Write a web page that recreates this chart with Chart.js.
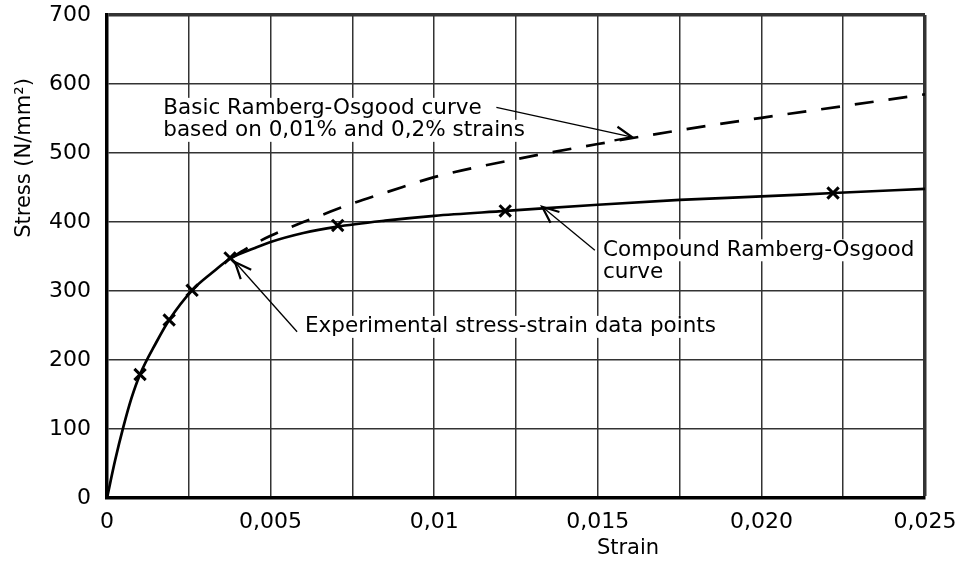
<!DOCTYPE html>
<html>
<head>
<meta charset="utf-8">
<script src="https://cdn.jsdelivr.net/npm/chart.js@4.4.1/dist/chart.umd.min.js"></script>
<style>
body { margin: 0; background: #fff; }
#wrap { width: 963px; height: 565px; }
</style>
</head>
<body>
<div id="wrap"><canvas id="myChart"></canvas></div>
<script>
// compound Ramberg-Osgood curve (solid line)
const compoundStrain = [0, 0.00025, 0.0005, 0.00075, 0.001, 0.0015, 0.0019, 0.0026, 0.0032, 0.0038, 0.0045, 0.005, 0.006, 0.007, 0.0085, 0.01, 0.0122, 0.015, 0.0175, 0.02, 0.0222, 0.025];
const compoundStress = [0, 55, 103, 145, 178, 225, 258, 301, 326, 348, 362, 371, 384, 393, 402, 409, 416, 425, 432, 437, 442, 448];

// basic Ramberg-Osgood curve (dashed), leaves the solid one near 0,004
const basicStrain = [0.0038, 0.0045, 0.005, 0.006, 0.0065, 0.0075, 0.0086, 0.01, 0.0125, 0.015, 0.0175, 0.02, 0.0225, 0.025];
const basicStress = [348, 368, 380, 400, 409, 427, 444, 465, 491, 513, 533, 551, 568, 585];

// experimental stress-strain data points
const testStrain = [0.00101, 0.0019, 0.0026, 0.00376, 0.00705, 0.01217, 0.02219];
const testStress = [179, 258, 301, 348, 395, 416, 442];

const xTickValues = [0, 0.005, 0.01, 0.015, 0.02, 0.025];
const xTickLabels = ['0', '0,005', '0,01', '0,015', '0,020', '0,025'];

const FONT = 'DejaVu Sans';

// notes and arrows, placed in data units
const notes = [
    { lines: ['Basic Ramberg-Osgood curve', 'based on 0,01% and 0,2% strains'], x: 0.00172, y: 564 },
    { lines: ['Compound Ramberg-Osgood', 'curve'], x: 0.01516, y: 359 },
    { lines: ['Experimental stress-strain data points'], x: 0.00605, y: 248 }
];
const arrows = [
    { from: [0.0119, 566], to: [0.01605, 523] },
    { from: [0.01491, 359], to: [0.0133, 422] },
    { from: [0.00581, 241], to: [0.00391, 342] }
];

function toXY(arr1, arr2) {
    return arr1.map((v, i) => ({ x: v, y: arr2[i] }));
}

const notesPlugin = {
    id: 'notes',
    afterDatasetsDraw(chart) {
        const ctx = chart.ctx;
        const xs = chart.scales.x, ys = chart.scales.y;
        ctx.save();
        ctx.font = '21.5px "' + FONT + '"';
        ctx.textBaseline = 'middle';
        ctx.textAlign = 'left';
        notes.forEach(n => {
            const px = xs.getPixelForValue(n.x);
            const py = ys.getPixelForValue(n.y);
            n.lines.forEach((t, i) => {
                const w = ctx.measureText(t).width;
                ctx.fillStyle = '#fff';
                ctx.fillRect(px - 4, py + i * 22 - 11, w + 8, 22);
            });
            ctx.fillStyle = '#000';
            n.lines.forEach((t, i) => ctx.fillText(t, px, py + i * 22));
        });

        ctx.strokeStyle = '#000';
        arrows.forEach(a => {
            const x1 = xs.getPixelForValue(a.from[0]), y1 = ys.getPixelForValue(a.from[1]);
            const x2 = xs.getPixelForValue(a.to[0]), y2 = ys.getPixelForValue(a.to[1]);
            ctx.lineWidth = 1.3;
            ctx.beginPath();
            ctx.moveTo(x1, y1);
            ctx.lineTo(x2, y2);
            ctx.stroke();
            const ang = Math.atan2(y1 - y2, x1 - x2);
            ctx.lineWidth = 2.2;
            ctx.beginPath();
            ctx.moveTo(x2 + 18 * Math.cos(ang + 0.4), y2 + 18 * Math.sin(ang + 0.4));
            ctx.lineTo(x2, y2);
            ctx.lineTo(x2 + 18 * Math.cos(ang - 0.4), y2 + 18 * Math.sin(ang - 0.4));
            ctx.stroke();
        });

        // axis titles
        ctx.font = '21px "' + FONT + '"';
        ctx.textAlign = 'center';
        ctx.fillStyle = '#000';
        ctx.fillText('Strain', 628, 549);
        ctx.translate(25, 158);
        ctx.rotate(-Math.PI / 2);
        ctx.fillText('Stress (N/mm\u00b2)', 0, 0);
        ctx.restore();
    }
};

const ctx = document.getElementById('myChart').getContext('2d');
const chart = new Chart(ctx, {
    type: 'line',
    data: {
        datasets: [
            {
                label: 'Compound Ramberg-Osgood curve',
                data: toXY(compoundStrain, compoundStress),
                borderColor: '#000',
                borderWidth: 2.7,
                pointRadius: 0,
                cubicInterpolationMode: 'monotone',
                fill: false
            },
            {
                label: 'Basic Ramberg-Osgood curve',
                data: toXY(basicStrain, basicStress),
                borderColor: '#000',
                borderWidth: 2.7,
                borderDash: [19, 15],
                pointRadius: 0,
                cubicInterpolationMode: 'monotone',
                fill: false
            },
            {
                label: 'Experimental stress-strain data points',
                data: toXY(testStrain, testStress),
                showLine: false,
                pointStyle: 'crossRot',
                pointRadius: 8,
                pointBorderWidth: 3,
                pointBorderColor: '#000',
                borderColor: '#000'
            }
        ]
    },
    options: {
        responsive: true,
        maintainAspectRatio: false,
        animation: false,
        layout: { padding: { left: 0, top: 15, right: 38, bottom: 0 } },
        plugins: {
            legend: { display: false },
            tooltip: { enabled: false }
        },
        scales: {
            x: {
                type: 'linear',
                min: 0,
                max: 0.025,
                afterFit: s => { s.height = 67; },
                ticks: {
                    stepSize: 0.0025,
                    autoSkip: false,
                    maxRotation: 0,
                    padding: 0,
                    color: '#000',
                    font: { family: FONT, size: 22 },
                    callback: function(v) {
                        const i = xTickValues.findIndex(t => Math.abs(t - v) < 1e-7);
                        return i >= 0 ? xTickLabels[i] : '';
                    }
                },
                grid: {
                    color: '#333',
                    drawTicks: true,
                    tickLength: 11,
                    tickColor: 'rgba(0,0,0,0)',
                    lineWidth: c => (c.tick && Math.abs(c.tick.value - 0.025) < 1e-7) ? 3.5 : 1.5
                },
                border: { color: '#000', width: 3.5 }
            },
            y: {
                min: 0,
                max: 700,
                afterFit: s => { s.width = 107; },
                ticks: {
                    stepSize: 100,
                    padding: 0,
                    color: '#000',
                    font: { family: FONT, size: 22 }
                },
                grid: {
                    color: '#333',
                    drawTicks: true,
                    tickLength: 16,
                    tickColor: 'rgba(0,0,0,0)',
                    lineWidth: c => (c.tick && c.tick.value === 700) ? 3.5 : 1.5
                },
                border: { color: '#000', width: 3.5 }
            }
        }
    },
    plugins: [notesPlugin]
});
</script>
</body>
</html>
